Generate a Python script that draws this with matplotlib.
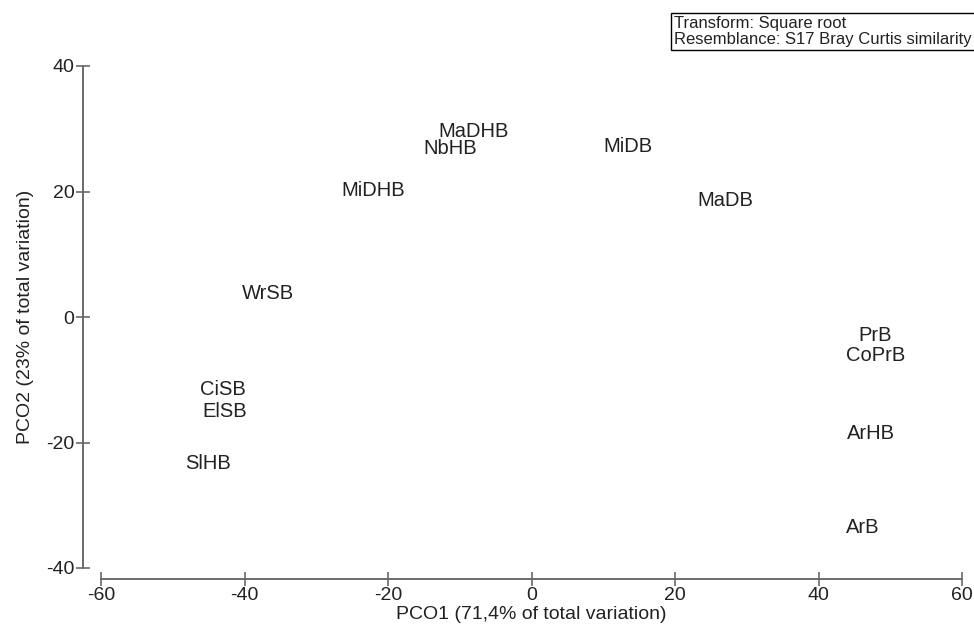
import matplotlib

matplotlib.use("Agg")
import matplotlib.pyplot as plt

# Общие параметры шрифта
plt.rcParams["font.family"] = ["Liberation Sans", "DejaVu Sans"]
plt.rcParams["font.size"] = 14
plt.rcParams["axes.unicode_minus"] = False

# Координаты образцов по главным координатам (PCO1, PCO2)
labels = ["MaDHB", "NbHB", "MiDB", "MiDHB", "MaDB", "WrSB", "PrB",
          "CoPrB", "CiSB", "ElSB", "ArHB", "SlHB", "ArB"]
pco1 = [-8.1, -11.4, 13.4, -22.0, 27.0, -36.7, 47.9,
        48.0, -43.0, -42.7, 47.3, -45.1, 46.2]
pco2 = [29.5, 26.8, 27.1, 20.2, 18.6, 3.8, -3.0,
        -6.2, -11.6, -15.1, -18.6, -23.4, -33.6]

x_ticks = [-60, -40, -20, 0, 20, 40, 60]
y_ticks = [-40, -20, 0, 20, 40]

text_color = "#222222"
axis_color = "#6a6a6a"

fig = plt.figure(figsize=(9.74, 6.30), dpi=100)
ax = fig.add_axes([101 / 974, 62 / 630, 861 / 974, 502 / 630])

for name, x, y in zip(labels, pco1, pco2):
    ax.text(x, y, name, ha="center", va="center", color=text_color, fontsize=14.5)

ax.set_xlim(-60, 60)
ax.set_ylim(-40, 40)
ax.set_xticks(x_ticks)
ax.set_yticks(y_ticks)

# Оси смещены наружу, как в PRIMER
for side in ["top", "right"]:
    ax.spines[side].set_visible(False)
ax.spines["left"].set_position(("outward", 13))
ax.spines["bottom"].set_position(("outward", 8))
for side in ["left", "bottom"]:
    ax.spines[side].set_color(axis_color)
    ax.spines[side].set_linewidth(1.4)

ax.tick_params(axis="both", direction="inout", length=10, width=1.2,
               color=axis_color, labelcolor=text_color, labelsize=14)
ax.tick_params(axis="y", pad=1)
ax.tick_params(axis="x", pad=1)

ax.set_xlabel("PCO1 (71,4% of total variation)", color=text_color,
              fontsize=14, labelpad=1)
ax.set_ylabel("PCO2 (23% of total variation)", color=text_color,
              fontsize=14, labelpad=9)

fig.text(674 / 974, 1 - 16 / 630,
         "Transform: Square root\nResemblance: S17 Bray Curtis similarity",
         ha="left", va="top", fontsize=12, linespacing=1.05, color=text_color,
         bbox=dict(boxstyle="square,pad=0.2", fc="white", ec="black", lw=1))

fig.savefig("out.png", dpi=100)
